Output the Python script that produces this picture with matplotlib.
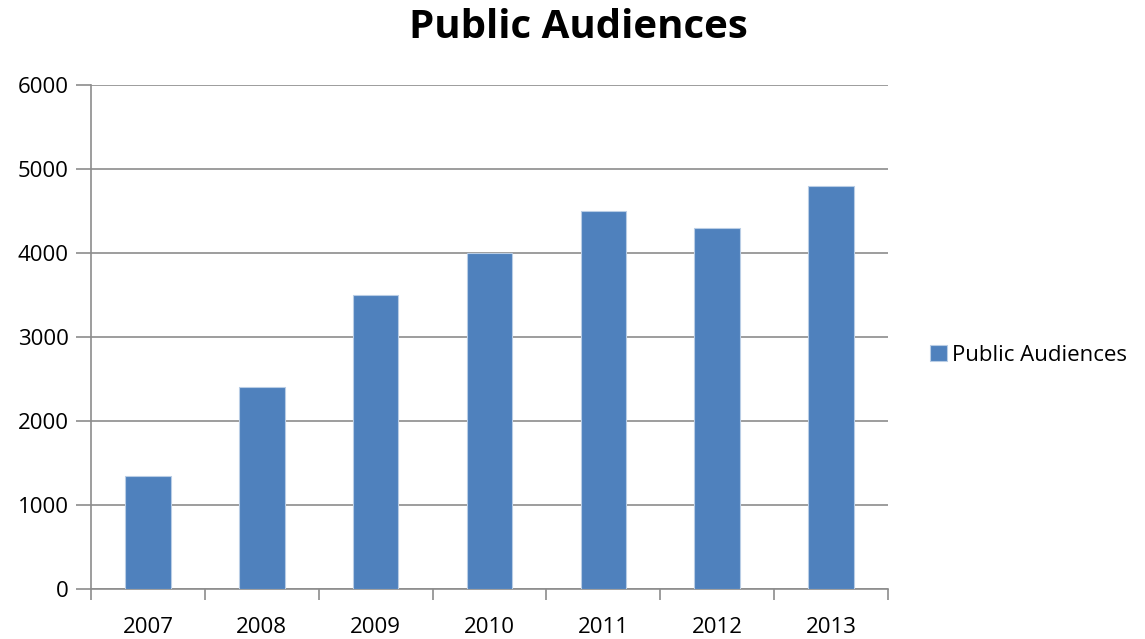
import numpy as np
import matplotlib.pyplot as plt

years = ["2007", "2008", "2009", "2010", "2011", "2012", "2013"]
audiences = [1350, 2400, 3500, 4000, 4500, 4300, 4800]

plt.rcParams['font.family'] = ['Open Sans', 'DejaVu Sans']

fig = plt.figure(figsize=(11.45, 6.39), dpi=100)
ax = fig.add_axes([0.0795, 0.078, 0.696, 0.789])

x = np.arange(len(years))
ax.bar(x, audiences, width=0.4, color="#4F81BD", edgecolor="#B9CDE5",
       linewidth=0.8, label="Public Audiences", zorder=3)

ax.set_xlim(-0.5, len(years) - 0.5)
ax.set_ylim(0, 6000)
ax.set_yticks(np.arange(0, 6001, 1000))
ax.yaxis.grid(True, color="#8C8C8C", linewidth=1.2, zorder=0)

# category labels centred under bars, tick marks on the boundaries
ax.set_xticks(x)
ax.set_xticklabels(years, fontsize=16)
ax.set_xticks(np.arange(-0.5, len(years) + 0.5, 1), minor=True)
ax.tick_params(axis="x", which="major", length=0, pad=20)
ax.tick_params(axis="x", which="minor", length=8, width=1.2, color="#8C8C8C", direction="out")
ax.tick_params(axis="y", length=11, width=1.2, color="#8C8C8C", labelsize=16, pad=5)

for side in ["top", "right"]:
    ax.spines[side].set_visible(False)
for side in ["left", "bottom"]:
    ax.spines[side].set_color("#8C8C8C")
    ax.spines[side].set_linewidth(1.2)

fig.text(0.505, 0.957, "Public Audiences", ha="center", va="center",
         fontsize=29, fontweight="bold")

fig.legend(loc="center left", bbox_to_anchor=(0.795, 0.444), frameon=False,
           fontsize=16, handlelength=0.75, handleheight=0.75, handletextpad=0.25)

fig.savefig("out.png", dpi=100)
